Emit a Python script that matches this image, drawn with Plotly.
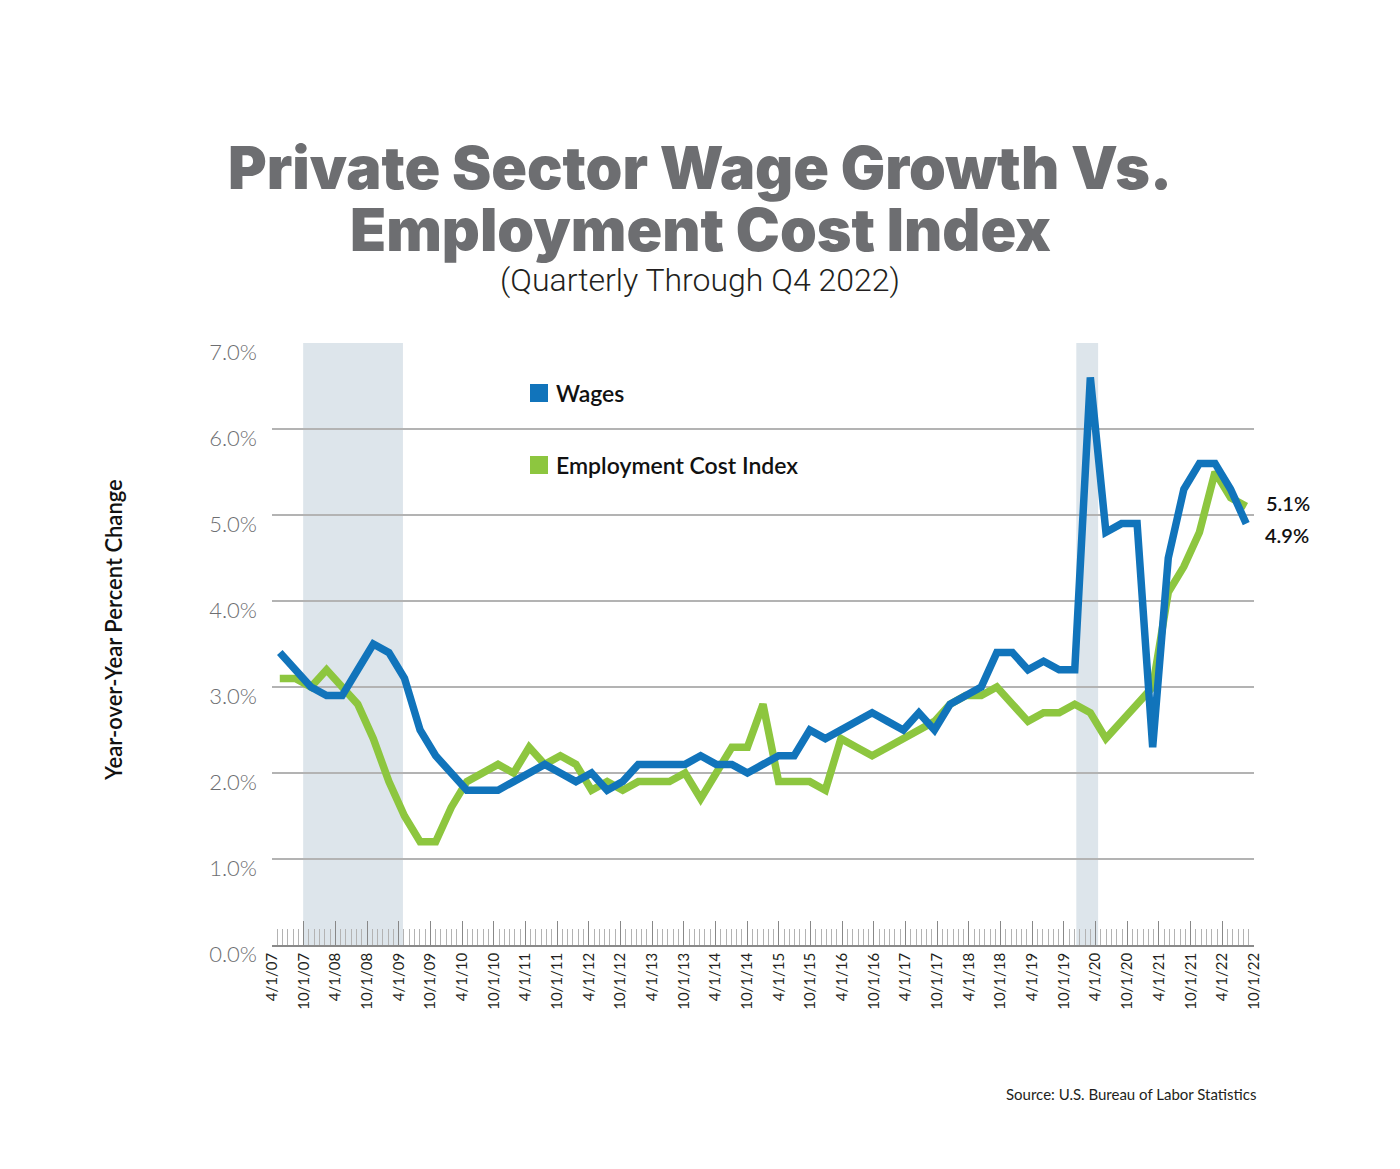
import plotly.graph_objects as go

# ---------------- data ----------------
quarters = ["4/1/07","7/1/07","10/1/07","1/1/08","4/1/08","7/1/08","10/1/08","1/1/09","4/1/09","7/1/09",
            "10/1/09","1/1/10","4/1/10","7/1/10","10/1/10","1/1/11","4/1/11","7/1/11","10/1/11","1/1/12",
            "4/1/12","7/1/12","10/1/12","1/1/13","4/1/13","7/1/13","10/1/13","1/1/14","4/1/14","7/1/14",
            "10/1/14","1/1/15","4/1/15","7/1/15","10/1/15","1/1/16","4/1/16","7/1/16","10/1/16","1/1/17",
            "4/1/17","7/1/17","10/1/17","1/1/18","4/1/18","7/1/18","10/1/18","1/1/19","4/1/19","7/1/19",
            "10/1/19","1/1/20","4/1/20","7/1/20","10/1/20","1/1/21","4/1/21","7/1/21","10/1/21","1/1/22",
            "4/1/22","7/1/22","10/1/22"]

wages = [3.4, 3.2, 3.0, 2.9, 2.9, 3.2, 3.5, 3.4, 3.1, 2.5,
         2.2, 2.0, 1.8, 1.8, 1.8, 1.9, 2.0, 2.1, 2.0, 1.9,
         2.0, 1.8, 1.9, 2.1, 2.1, 2.1, 2.1, 2.2, 2.1, 2.1,
         2.0, 2.1, 2.2, 2.2, 2.5, 2.4, 2.5, 2.6, 2.7, 2.6,
         2.5, 2.7, 2.5, 2.8, 2.9, 3.0, 3.4, 3.4, 3.2, 3.3,
         3.2, 3.2, 6.6, 4.8, 4.9, 4.9, 2.3, 4.5, 5.3, 5.6,
         5.6, 5.3, 4.9]

eci = [3.1, 3.1, 3.0, 3.2, 3.0, 2.8, 2.4, 1.9, 1.5, 1.2,
       1.2, 1.6, 1.9, 2.0, 2.1, 2.0, 2.3, 2.1, 2.2, 2.1,
       1.8, 1.9, 1.8, 1.9, 1.9, 1.9, 2.0, 1.7, 2.0, 2.3,
       2.3, 2.8, 1.9, 1.9, 1.9, 1.8, 2.4, 2.3, 2.2, 2.3,
       2.4, 2.5, 2.6, 2.8, 2.9, 2.9, 3.0, 2.8, 2.6, 2.7,
       2.7, 2.8, 2.7, 2.4, 2.6, 2.8, 3.0, 4.1, 4.4, 4.8,
       5.5, 5.2, 5.1]

tick_labels = ["4/1/07","10/1/07","4/1/08","10/1/08","4/1/09","10/1/09","4/1/10","10/1/10",
               "4/1/11","10/1/11","4/1/12","10/1/12","4/1/13","10/1/13","4/1/14","10/1/14",
               "4/1/15","10/1/15","4/1/16","10/1/16","4/1/17","10/1/17","4/1/18","10/1/18",
               "4/1/19","10/1/19","4/1/20","10/1/20","4/1/21","10/1/21","4/1/22","10/1/22"]

recessions = [(1.5, 7.9), (51.1, 52.5)]

y_ticks = [0, 1, 2, 3, 4, 5, 6, 7]

# ---------------- layout geometry ----------------
# page has an 8px body margin; figure is sized so the screenshot geometry matches
PAGE_W, PAGE_H, OFF = 1400, 1169, 8
W, H = PAGE_W - OFF, PAGE_H - OFF
L, R, T, B = 272, 1254, 343, 945          # plot area in screenshot pixels
n = len(quarters)
xs = list(range(n))
xmin, xmax = -0.5, n - 0.5
span = xmax - xmin
nt = len(tick_labels)
tickvals = [xmin + k * span / (nt - 1) for k in range(nt)]


def px(x):
    return (x - L) / (R - L)


def py(y):
    return (B - y) / (B - T)


BLUE = "#1174bb"
GREEN = "#8dc63f"
FONT = "Lato"

fig = go.Figure()

for x0, x1 in recessions:
    fig.add_shape(type="rect", xref="x", yref="paper", x0=x0, x1=x1, y0=0, y1=1,
                  fillcolor="#dde5eb", line_width=0, layer="below")

fig.add_trace(go.Scatter(x=xs, y=eci, mode="lines", line=dict(color=GREEN, width=7.5),
                         name="Employment Cost Index", hoverinfo="skip"))
fig.add_trace(go.Scatter(x=xs, y=wages, mode="lines", line=dict(color=BLUE, width=7.5),
                         name="Wages", hoverinfo="skip"))

fig.update_xaxes(range=[xmin, xmax], tickmode="array", tickvals=tickvals, ticktext=tick_labels,
                 tickangle=-90, ticks="inside", ticklen=24, tickwidth=1.2, tickcolor="#888888",
                 minor=dict(tick0=xmin, dtick=span / ((nt - 1) * 6), ticks="inside", ticklen=16,
                            tickwidth=1.2, tickcolor="#b3b3b3", showgrid=False),
                 showgrid=False, zeroline=False, showline=True, linecolor="#8a8a8a", linewidth=1.5,
                 tickfont=dict(family=FONT, size=15, color="#231f20"), fixedrange=True)

fig.update_yaxes(range=[0, 7], tickmode="array", tickvals=y_ticks,
                 ticktext=[f"{v:.1f}%" for v in y_ticks],
                 showgrid=True, gridcolor="#b3b3b3", gridwidth=1.5, zeroline=False, showline=False,
                 ticks="", ticklabelstandoff=14, ticklabelshift=9,
                 tickfont=dict(family=FONT, size=22, color="#6d6e71", weight=300), fixedrange=True)

ann = []
# title
ann.append(dict(text="Private Sector Wage Growth Vs.", x=px(700), y=py(167), xref="paper", yref="paper",
                showarrow=False, xanchor="center", yanchor="middle",
                font=dict(family="Inter", size=59, color="#6d6e71", weight=900)))
ann.append(dict(text="Employment Cost Index", x=px(700), y=py(229), xref="paper", yref="paper",
                showarrow=False, xanchor="center", yanchor="middle",
                font=dict(family="Inter", size=59, color="#6d6e71", weight=900)))
ann.append(dict(text="(Quarterly Through Q4 2022)", x=px(700), y=py(280), xref="paper", yref="paper",
                showarrow=False, xanchor="center", yanchor="middle",
                font=dict(family="Roboto", size=32, color="#231f20", weight=300)))
# y title
ann.append(dict(text="Year-over-Year Percent Change", x=px(113), y=py(630), xref="paper", yref="paper",
                showarrow=False, xanchor="center", yanchor="middle", textangle=-90,
                font=dict(family=FONT, size=22, color="#111111", weight=600)))
# legend
for label, color, yc in [("Wages", BLUE, 393), ("Employment Cost Index", GREEN, 465)]:
    fig.add_shape(type="rect", xref="paper", yref="paper", x0=px(530), x1=px(548),
                  y0=py(yc + 9), y1=py(yc - 9), fillcolor=color, line_width=0)
    ann.append(dict(text=label, x=px(554), y=py(yc), xref="paper", yref="paper", showarrow=False,
                    xanchor="left", yanchor="middle",
                    font=dict(family=FONT, size=23, color="#111111", weight=600)))
# end labels
ann.append(dict(text=f"{eci[-1]:.1f}%", x=px(1264), y=py(503), xref="paper", yref="paper", showarrow=False,
                xanchor="left", yanchor="middle", font=dict(family=FONT, size=20, color="#111111", weight=600)))
ann.append(dict(text=f"{wages[-1]:.1f}%", x=px(1263), y=py(535), xref="paper", yref="paper", showarrow=False,
                xanchor="left", yanchor="middle", font=dict(family=FONT, size=20, color="#111111", weight=600)))
# source
ann.append(dict(text="Source: U.S. Bureau of Labor Statistics", x=px(1258), y=py(1094), xref="paper",
                yref="paper", showarrow=False, xanchor="right", yanchor="middle",
                font=dict(family=FONT, size=15, color="#231f20")))

fig.update_layout(width=W, height=H,
                  margin=dict(l=L - OFF, r=PAGE_W - R, t=T - OFF, b=PAGE_H - B, autoexpand=False),
                  paper_bgcolor="white", plot_bgcolor="white", showlegend=False, annotations=ann)

fig.write_html("out.html")
